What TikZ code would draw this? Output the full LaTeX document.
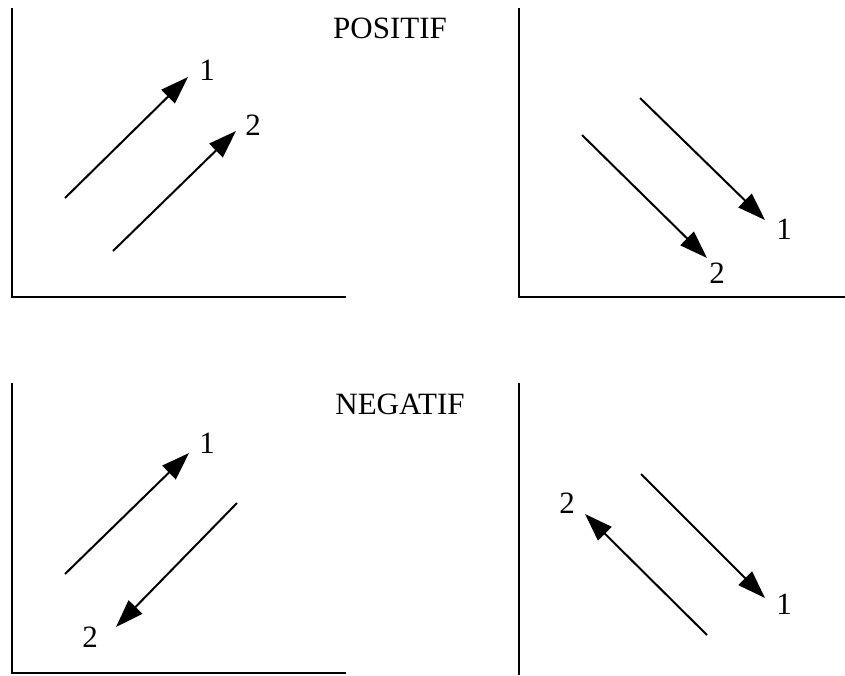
\documentclass[tikz,border=0pt]{standalone}
\usepackage{fontspec}
\setmainfont{Liberation Serif}
\usetikzlibrary{arrows.meta,positioning}
\tikzset{
  axis/.style = {
    line width=2.6pt,
    black
  },
  flow/.style = {
    line width=2pt,
    -{Triangle[length=28pt,width=19pt]},
    black
  },
  num/.style = {
    inner sep=0pt,
    font=\fontsize{31}{36}\selectfont
  },
  title/.style = {
    inner sep=0pt,
    font=\fontsize{31}{36}\selectfont
  }
}

\begin{document}
\begin{tikzpicture}[x=1pt,y=-1pt]
\useasboundingbox (0,0) rectangle (845,675);

% Achsen
\coordinate (tl_top) at (12,8);
\coordinate (tl_org) at (12,297);
\coordinate (tl_end) at (346,297);
\coordinate (tr_top) at (519,8);
\coordinate (tr_org) at (519,297);
\coordinate (tr_end) at (845,297);
\coordinate (bl_top) at (12,383);
\coordinate (bl_org) at (12,673);
\coordinate (bl_end) at (346,673);
\coordinate (br_top) at (519,383);
\coordinate (br_org) at (519,675);

\draw[axis] (tl_top) -- (tl_org) -- (tl_end);
\draw[axis] (tr_top) -- (tr_org) -- (tr_end);
\draw[axis] (bl_top) -- (bl_org) -- (bl_end);
\draw[axis] (br_top) -- (br_org);

% Titel
\node[title] (positif) at (390,28) {POSITIF};
\node[title] (negatif) at (400,404) {NEGATIF};

% POSITIF links
\coordinate (tl_a1) at (65,198);
\coordinate (tl_b1) at (188,77);
\coordinate (tl_a2) at (113,251);
\coordinate (tl_b2) at (236,131);
\node[num] (tl_n1) at (207,70) {1};
\node[num] (tl_n2) at (253,125) {2};
\draw[flow] (tl_a1) -- (tl_b1);
\draw[flow] (tl_a2) -- (tl_b2);

% POSITIF rechts
\coordinate (tr_a1) at (640,98);
\coordinate (tr_b1) at (765,220);
\coordinate (tr_a2) at (582,135);
\coordinate (tr_b2) at (707,258);
\node[num] (tr_n1) at (784,229) {1};
\node[num] (tr_n2) at (717,273) {2};
\draw[flow] (tr_a1) -- (tr_b1);
\draw[flow] (tr_a2) -- (tr_b2);

% NEGATIF links
\coordinate (bl_a1) at (65,574);
\coordinate (bl_b1) at (189,453);
\coordinate (bl_a2) at (237,503);
\coordinate (bl_b2) at (116,627);
\node[num] (bl_n1) at (207,443) {1};
\node[num] (bl_n2) at (90,637) {2};
\draw[flow] (bl_a1) -- (bl_b1);
\draw[flow] (bl_a2) -- (bl_b2);

% NEGATIF rechts
\coordinate (br_a1) at (641,474);
\coordinate (br_b1) at (765,598);
\coordinate (br_a2) at (707,635);
\coordinate (br_b2) at (585,514);
\node[num] (br_n1) at (784,604) {1};
\node[num] (br_n2) at (567,503) {2};
\draw[flow] (br_a1) -- (br_b1);
\draw[flow] (br_a2) -- (br_b2);

\end{tikzpicture}
\end{document}
